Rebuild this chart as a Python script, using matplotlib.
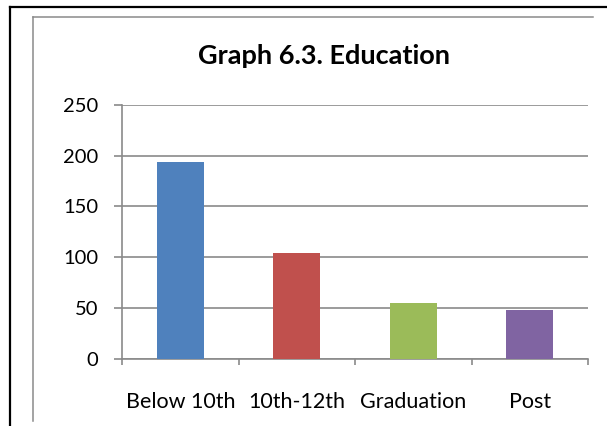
import matplotlib
matplotlib.use("Agg")
import matplotlib.pyplot as plt
from matplotlib.lines import Line2D
from matplotlib.patches import Rectangle
from matplotlib.ticker import FixedLocator

# Data
categories = ["Below 10th", "10th-12th", "Graduation", "Post"]
counts = [194, 104, 55, 48]
bar_colors = ["#4F81BD", "#C0504D", "#9BBB59", "#8064A2"]
y_ticks = [0, 50, 100, 150, 200, 250]
title = "Graph 6.3. Education"

plt.rcParams['font.family'] = ['Lato', 'DejaVu Sans']

W, H = 607, 426
fig = plt.figure(figsize=(W / 100, H / 100), dpi=100)


def fx(px):
    return px / W


def fy(py):
    return 1 - py / H


grid_gray = "#8a8a8a"

# Plot area
left, right, top, bottom = 122, 588, 105, 358.7
ax = fig.add_axes([fx(left), fy(bottom), fx(right) - fx(left), fy(top) - fy(bottom)])
xpos = list(range(len(categories)))
ax.bar(xpos, counts, width=0.4, color=bar_colors, zorder=3)
ax.set_xlim(-0.5, len(categories) - 0.5)
ax.set_ylim(0, y_ticks[-1])

ax.set_yticks(y_ticks)
ax.yaxis.grid(True, color=grid_gray, linewidth=1.2, zorder=1)
ax.set_axisbelow(True)

ax.set_xticks(xpos)
ax.set_xticklabels(categories, fontsize=15.5, va="top")
ax.xaxis.set_minor_locator(FixedLocator([i - 0.5 for i in range(len(categories) + 1)]))
ax.tick_params(axis="x", which="major", length=0, pad=24)
ax.tick_params(axis="x", which="minor", length=6 * 0.72, width=1.2, color=grid_gray, direction="out")
ax.tick_params(axis="y", which="major", length=8 * 0.72, width=1.2, color=grid_gray,
               labelsize=14.5, pad=11.5)

for side in ("top", "right"):
    ax.spines[side].set_visible(False)
for side in ("left", "bottom"):
    ax.spines[side].set_color(grid_gray)
    ax.spines[side].set_linewidth(1.2)

# Title
fig.text(fx(324), fy(64), title, ha="center", va="baseline", fontsize=19.5, fontweight="bold")

# Page edge below the chart
fig.add_artist(Rectangle((fx(11), 0), 1, fy(422), transform=fig.transFigure,
                         facecolor="white", edgecolor="none", zorder=10))

# Chart frame (gray) and document border (black)
fig.add_artist(Line2D([fx(33), fx(33)], [fy(17), fy(421)], transform=fig.transFigure,
                      color=grid_gray, linewidth=1.1, zorder=11))
fig.add_artist(Line2D([fx(33), fx(593)], [fy(17), fy(17)], transform=fig.transFigure,
                      color=grid_gray, linewidth=1.1, zorder=11))
fig.add_artist(Line2D([fx(10), fx(10)], [fy(7), 0], transform=fig.transFigure,
                      color="black", linewidth=1.6, zorder=11))
fig.add_artist(Line2D([fx(10), 1], [fy(7), fy(7)], transform=fig.transFigure,
                      color="black", linewidth=1.6, zorder=11))

fig.savefig("out.png", dpi=100)
